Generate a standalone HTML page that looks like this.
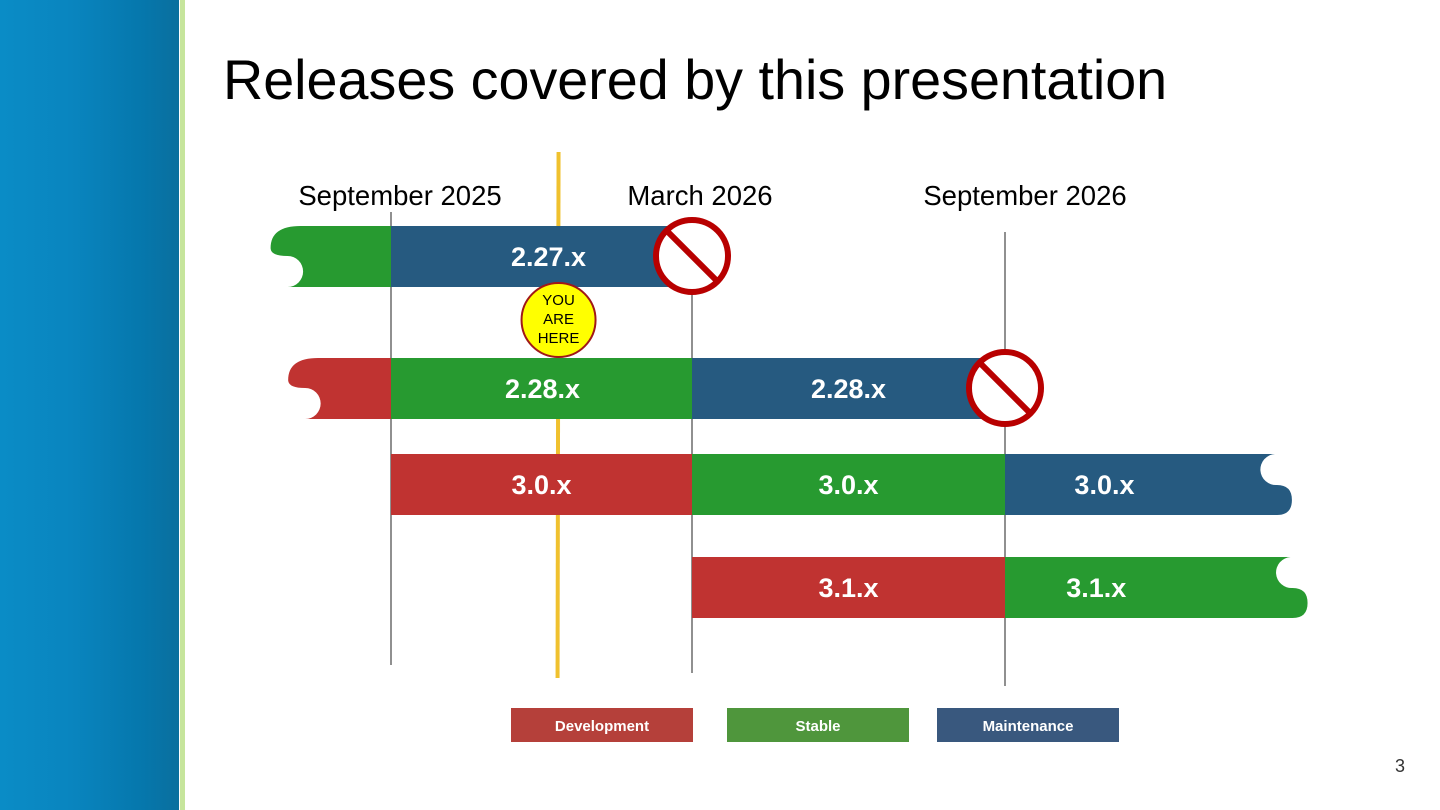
<!DOCTYPE html>
<html><head><meta charset="utf-8"><style>
html,body{margin:0;padding:0;width:1440px;height:810px;overflow:hidden;background:#fff;font-family:"Liberation Sans",Arial,sans-serif}
#sidebar{position:absolute;left:0;top:0;width:179px;height:810px;background:linear-gradient(90deg,#0a8cc6 0%,#0985bf 40%,#0677ac 80%,#0a6f9e 100%)}
#stripe{position:absolute;left:180px;top:0;width:5px;height:810px;background:#c6e59c}
#title{position:absolute;left:223px;top:48px;font-size:55.7px;color:#000;white-space:nowrap}
#pagenum{position:absolute;left:1395px;top:756px;font-size:18px;color:#333}
</style></head><body>
<div id="sidebar"></div>
<div id="stripe"></div>
<div id="title">Releases covered by this presentation</div>
<div id="pagenum">3</div>
<svg id="chart" width="1440" height="810" style="position:absolute;left:0;top:0"></svg>
<script>
// time axis: months since Sep 2025
const tickMonths = [0, 6, 12];
const tickLabels = ["September 2025", "March 2026", "September 2026"];
const tickPx = [391, 692, 1005];
const rowNames = ["2.27.x", "2.28.x", "3.0.x", "3.1.x"];
const rowTop = [226, 358, 454, 557];
// segments: row index, phase, start month, end month, cap ("l"/"r"/"")
const segRow   = [0, 0, 1, 1, 1, 2, 2, 2, 3, 3];
const segPhase = ["stable","maint","dev","stable","maint","dev","stable","maint","dev","stable"];
const segStart = [-2.4, 0, -2.05, 0, 6, 0, 6, 12, 6, 12];
const segEnd   = [0, 6, 0, 6, 12, 6, 12, 17.5, 12, 17.8];
const segCap   = ["l","","l","","","","","r","","r"];
const segLabel = ["","2.27.x","","2.28.x","2.28.x","3.0.x","3.0.x","3.0.x","3.1.x","3.1.x"];
const eolRow = [0, 1];
const eolMonth = [6, 12];
const youAreHereMonth = 3.3;
const legendNames = ["Development", "Stable", "Maintenance"];

const labelDx = [0,7,0,1,0,0,0,-44,0,-60];
const colors = {dev:"#c03331", stable:"#279a30", maint:"#265a80"};
const legendColors = ["#b5403a","#4f963c","#39587e"];
const H = 61;
function x(m){
  if (m <= tickMonths[1]) return tickPx[0] + (m - tickMonths[0]) * (tickPx[1]-tickPx[0])/(tickMonths[1]-tickMonths[0]);
  return tickPx[1] + (m - tickMonths[1]) * (tickPx[2]-tickPx[1])/(tickMonths[2]-tickMonths[1]);
}
const svg = document.getElementById('chart');
const NS = "http://www.w3.org/2000/svg";
function mk(tag, attrs){ const e=document.createElementNS(NS,tag); for(const k in attrs) e.setAttribute(k,attrs[k]); svg.appendChild(e); return e; }

// gridlines
const gridTop=[212,290,232], gridBot=[665,673,686];
tickMonths.forEach((m,i)=>{
  const l = mk('line',{x1:x(m),x2:x(m),y1:gridTop[i],y2:gridBot[i],stroke:'#555','stroke-width':1.3});
  
  
  const t = mk('text',{x:x(m)+ [9,8,20][i],y:205,'text-anchor':'middle','font-size':27.5,fill:'#000','font-family':'Liberation Sans, sans-serif'});
  t.textContent = tickLabels[i];
  
  
});

// you-are-here line
const yx = x(youAreHereMonth);
const yl = mk('line',{x1:yx+2,x2:yx+1,y1:152,y2:678,stroke:'#f0c12e','stroke-width':4});



// segments
for(let i=0;i<segRow.length;i++){
  const y0=rowTop[segRow[i]], y1=y0+H;
  const xa=x(segStart[i]), xb=x(segEnd[i]);
  let d;
  if(segCap[i]==='l'){
    d=`M${xb},${y0} H${xa+30} Q${xa},${y0} ${xa},${y0+22} Q${xa},${y0+30} ${xa+17},${y0+30} A15.5,15.5 0 0 1 ${xa+17},${y1} H${xb} Z`;
  } else if(segCap[i]==='r'){
    d=`M${xa},${y0} H${xb-17} A15.5,15.5 0 0 0 ${xb-15},${y0+31} Q${xb},${y0+31} ${xb},${y0+46} Q${xb},${y1} ${xb-15},${y1} H${xa} Z`;
  } else {
    d=`M${xa},${y0} H${xb} V${y1} H${xa} Z`;
  }
  const p=mk('path',{d:d,fill:colors[segPhase[i]]});
  
  
  if(segLabel[i]){
    const cx = (xa+xb)/2 + labelDx[i];
    const t=mk('text',{x:cx,y:y0+40,'text-anchor':'middle','font-size':27,'font-weight':'bold',fill:'#fff','font-family':'Liberation Sans, sans-serif'});
    t.textContent=segLabel[i];
    
    
  }
}

// end-of-life signs
eolRow.forEach((r,i)=>{
  const cx=x(eolMonth[i]), cy=rowTop[r]+30;
  const g=document.createElementNS(NS,'g'); svg.appendChild(g);
  
  
  const c=document.createElementNS(NS,'circle');
  c.setAttribute('cx',cx);c.setAttribute('cy',cy);c.setAttribute('r',36);c.setAttribute('fill','#fff');c.setAttribute('stroke','#b80000');c.setAttribute('stroke-width',6);
  g.appendChild(c);
  const l=document.createElementNS(NS,'line');
  l.setAttribute('x1',cx-25);l.setAttribute('y1',cy-25);l.setAttribute('x2',cx+25);l.setAttribute('y2',cy+25);l.setAttribute('stroke','#b80000');l.setAttribute('stroke-width',6);
  g.appendChild(l);
});

// you are here badge
const yc=mk('circle',{cx:yx+2,cy:320,r:37,fill:'#ffff00',stroke:'#a01818','stroke-width':2});


["YOU","ARE","HERE"].forEach((w,i)=>{
  const t=mk('text',{x:yx+2,y:305+i*19,'text-anchor':'middle','font-size':15,fill:'#000','font-family':'Liberation Sans, sans-serif'});
  t.textContent=w;
  
  
});

// legend
const legX=[511,727,937];
legendNames.forEach((n,i)=>{
  const r=mk('rect',{x:legX[i],y:708,width:182,height:34,fill:legendColors[i]});
  
  
  const t=mk('text',{x:legX[i]+91,y:731,'text-anchor':'middle','font-size':15,'font-weight':'bold',fill:'#fff','font-family':'Liberation Sans, sans-serif'});
  t.textContent=n;
  
  
});
</script>
</body></html>
